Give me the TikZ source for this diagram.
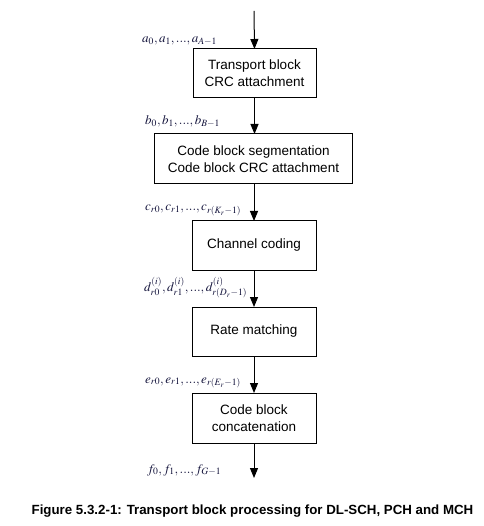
\documentclass[tikz,border=0pt]{standalone}
\usepackage{mathptmx}
\usepackage[no-math]{fontspec}
\setmainfont{Liberation Sans}
\usetikzlibrary{arrows.meta}
\definecolor{lblcol}{HTML}{14143C}
\newcommand{\tdots}{\mathord{.}\mathord{.}\mathord{.}}
\begin{document}
\begin{tikzpicture}[x=1pt,y=-1pt,
  box/.style={draw,line width=1pt,inner sep=0pt,outer sep=0pt,align=center,
    minimum height=49pt,font=\fontsize{13.5}{17}\selectfont},
  arr/.style={line width=1pt,-{Triangle[width=8pt,length=10pt]}},
  lbl/.style={anchor=base west,inner sep=0pt,text=lblcol,font=\fontsize{13}{15}\selectfont},
  captext/.style={font=\fontsize{13.3}{16}\selectfont\bfseries,inner sep=0pt}]
\useasboundingbox (0,0) rectangle (483,526);
\coordinate (top) at (254,11);
\node[box,minimum width=123pt] (b1) at (254.5,73.5) {Transport block\\CRC attachment};
\node[box,minimum width=198pt,minimum height=50pt] (b2) at (253.5,159) {Code block segmentation\\Code block CRC attachment};
\node[box,minimum width=124pt] (b3) at (254,245.5) {Channel coding};
\node[box,minimum width=124pt] (b4) at (254,331.5) {Rate matching};
\node[box,minimum width=124pt,minimum height=50pt] (b5) at (254,418) {Code block\\concatenation};
\coordinate (bot) at (254,478);
\draw[arr] (top) -- (b1.north);
\draw[arr] (b1.south) -- (b1.south |- b2.north);
\draw[arr] (b2.south -| b3.north) -- (b3.north);
\draw[arr] (b3.south) -- (b4.north);
\draw[arr] (b4.south) -- (b5.north);
\draw[arr] (b5.south) -- (bot);
\node[lbl] (la) at (142,43) {$a_0,a_1,\tdots,a_{A-1}$};
\node[lbl] (lb) at (145,125) {$b_0,b_1,\tdots,b_{B-1}$};
\node[lbl] (lc) at (145,211) {$c_{r0},c_{r1},\tdots,c_{r(K_r-1)}$};
\node[lbl] (ld) at (144,291) {$d^{(i)}_{r0},d^{(i)}_{r1},\tdots,d^{(i)}_{r(D_r-1)}$};
\node[lbl] (le) at (145,383) {$e_{r0},e_{r1},\tdots,e_{r(E_r-1)}$};
\node[lbl] (lf) at (147,473) {$f_0,f_1,\tdots,f_{G-1}$};
\node[captext] (caption) at (252.5,511) {Figure 5.3.2-1: Transport block processing for DL-SCH, PCH and MCH};
\end{tikzpicture}
\end{document}
